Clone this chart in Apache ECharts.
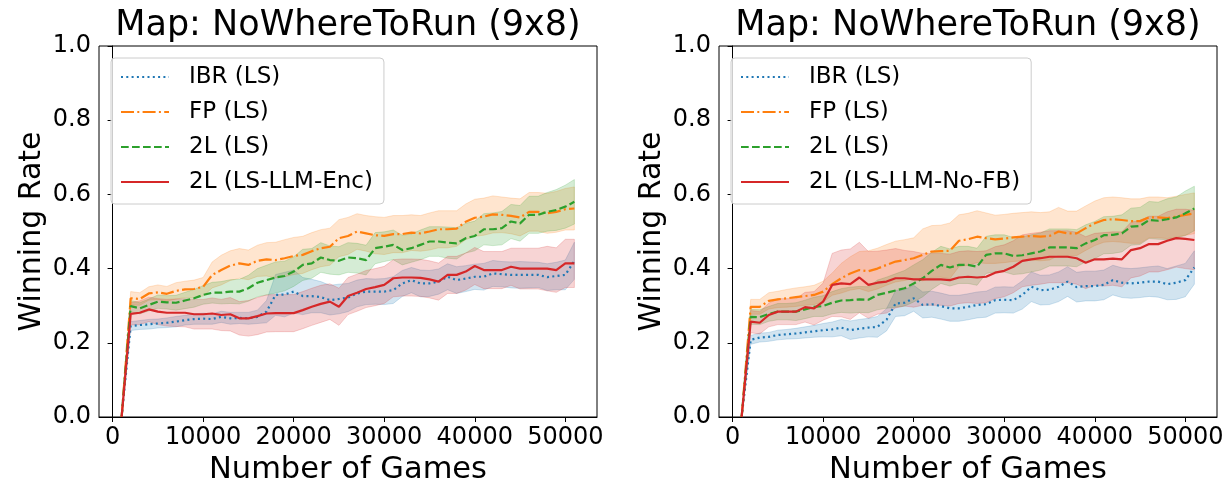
<!DOCTYPE html>
<html><head><meta charset="utf-8">
<script src="https://cdn.jsdelivr.net/npm/echarts@6/dist/echarts.min.js"></script>
<style>html,body{margin:0;padding:0;background:#fff}#c{width:1228px;height:482px}</style>
</head><body><div id="c"></div>
<script>
const games = [1000,2000,3000,4000,5000,6000,7000,8000,9000,10000,11000,12000,13000,14000,15000,16000,17000,18000,19000,20000,21000,22000,23000,24000,25000,26000,27000,28000,29000,30000,31000,32000,33000,34000,35000,36000,37000,38000,39000,40000,41000,42000,43000,44000,45000,46000,47000,48000,49000,50000,51000];
const titleText = 'Map: NoWhereToRun (9x8)';
const xTicks = [0,10000,20000,30000,40000,50000];
const namesLeft = ['IBR (LS)','FP (LS)','2L (LS)','2L (LS-LLM-Enc)'];
const namesRight = ['IBR (LS)','FP (LS)','2L (LS)','2L (LS-LLM-No-FB)'];

// ---- left panel ----
const ibrLeft = [0,.245,.248,.250,.252,.254,.257,.261,.264,.265,.264,.270,.266,.267,.266,.270,.284,.329,.330,.338,.326,.326,.323,.315,.318,.322,.333,.338,.338,.338,.342,.360,.369,.360,.360,.365,.378,.369,.373,.378,.378,.387,.385,.383,.383,.383,.383,.377,.380,.383,.421];
const ibrLeftSpread = [0,.012,.012,.013,.012,.013,.014,.013,.014,.015,.014,.015,.016,.015,.016,.018,.030,.055,.060,.058,.050,.045,.042,.040,.040,.038,.036,.035,.034,.035,.036,.035,.034,.036,.035,.034,.035,.036,.035,.034,.036,.035,.034,.035,.036,.035,.034,.036,.037,.040,.050];
const fpLeft = [0,.320,.318,.333,.336,.332,.340,.344,.345,.351,.383,.396,.408,.414,.410,.421,.425,.423,.428,.434,.437,.447,.455,.459,.482,.488,.500,.495,.490,.488,.493,.493,.497,.495,.500,.506,.506,.508,.526,.537,.540,.546,.545,.542,.538,.553,.553,.549,.553,.560,.562];
const fpLeftSpread = [0,.018,.017,.018,.020,.020,.022,.022,.024,.025,.035,.040,.040,.040,.040,.042,.045,.048,.050,.050,.050,.050,.050,.050,.050,.050,.048,.048,.050,.050,.050,.050,.048,.048,.050,.050,.050,.048,.048,.050,.050,.050,.048,.048,.050,.052,.052,.054,.055,.056,.058];
const twoLeft = [0,.299,.293,.302,.311,.309,.308,.314,.320,.329,.335,.335,.338,.338,.347,.362,.369,.376,.380,.392,.410,.414,.430,.423,.421,.430,.428,.423,.455,.459,.464,.450,.455,.464,.473,.473,.470,.468,.482,.488,.506,.506,.509,.527,.522,.545,.545,.553,.558,.567,.580];
const twoLeftSpread = [0,.015,.015,.016,.018,.018,.020,.022,.024,.025,.028,.030,.032,.033,.035,.038,.040,.042,.040,.040,.042,.040,.040,.038,.038,.040,.040,.040,.042,.040,.040,.040,.038,.040,.040,.040,.042,.042,.040,.040,.042,.044,.045,.046,.048,.050,.050,.052,.055,.058,.060];
const llmLeft = [0,.278,.281,.290,.284,.281,.281,.281,.277,.277,.279,.275,.277,.266,.266,.272,.279,.280,.280,.280,.288,.297,.305,.311,.297,.326,.335,.345,.350,.356,.374,.376,.376,.375,.371,.365,.383,.383,.392,.407,.396,.396,.396,.405,.400,.400,.400,.400,.396,.414,.414];
const llmLeftSpread = [0,.030,.032,.033,.035,.036,.037,.038,.040,.040,.042,.042,.045,.045,.048,.050,.050,.050,.050,.050,.050,.050,.050,.048,.050,.050,.050,.050,.050,.050,.050,.050,.050,.050,.050,.050,.050,.050,.050,.050,.050,.050,.050,.050,.055,.055,.055,.060,.060,.065,.065];

// ---- right panel ----
const ibrRight = [0,.208,.214,.216,.221,.223,.225,.228,.231,.234,.236,.241,.234,.238,.241,.243,.262,.306,.308,.320,.302,.304,.299,.293,.293,.297,.302,.304,.315,.316,.315,.329,.351,.342,.343,.351,.365,.350,.353,.353,.356,.369,.362,.360,.362,.365,.365,.358,.362,.369,.403];
const ibrRightSpread = [0,.012,.012,.012,.013,.013,.014,.015,.016,.018,.020,.022,.025,.025,.025,.028,.030,.035,.035,.035,.035,.035,.035,.035,.035,.035,.035,.035,.035,.035,.035,.038,.040,.040,.040,.040,.040,.040,.040,.040,.040,.040,.040,.040,.040,.040,.042,.042,.045,.045,.045];
const fpRight = [0,.297,.297,.313,.317,.320,.323,.326,.329,.338,.358,.374,.387,.396,.393,.400,.410,.419,.423,.428,.437,.446,.447,.448,.475,.479,.486,.482,.479,.481,.484,.486,.488,.486,.488,.500,.495,.495,.509,.522,.531,.533,.531,.528,.528,.538,.538,.536,.540,.545,.549];
const fpRightSpread = [0,.020,.020,.022,.022,.024,.025,.025,.026,.028,.030,.040,.045,.050,.055,.055,.055,.055,.055,.055,.070,.070,.070,.075,.070,.070,.070,.068,.065,.065,.065,.065,.065,.065,.065,.065,.060,.060,.060,.060,.060,.060,.060,.060,.060,.055,.055,.055,.055,.055,.055];
const twoRight = [0,.270,.269,.278,.284,.284,.284,.290,.297,.299,.308,.314,.315,.317,.316,.329,.335,.341,.347,.360,.374,.394,.410,.403,.410,.410,.405,.437,.441,.441,.434,.436,.441,.446,.457,.457,.457,.455,.468,.477,.490,.491,.495,.513,.515,.531,.529,.533,.538,.549,.562];
const twoRightSpread = [0,.020,.020,.020,.022,.022,.024,.025,.026,.028,.030,.032,.035,.035,.035,.040,.042,.045,.048,.050,.050,.050,.050,.050,.050,.050,.050,.050,.050,.050,.050,.050,.050,.050,.050,.050,.050,.050,.050,.050,.050,.050,.050,.050,.050,.050,.050,.055,.055,.060,.060];
const llmRight = [0,.257,.254,.275,.284,.284,.284,.296,.293,.311,.356,.360,.358,.376,.356,.362,.365,.374,.374,.371,.371,.371,.371,.369,.376,.378,.376,.378,.389,.394,.405,.421,.425,.428,.432,.432,.432,.428,.416,.425,.425,.427,.425,.450,.455,.466,.466,.475,.482,.480,.477];
const llmRightSpread = [0,.030,.030,.032,.035,.035,.035,.040,.045,.050,.085,.090,.095,.095,.090,.085,.085,.080,.075,.075,.070,.070,.070,.070,.070,.070,.070,.070,.070,.070,.070,.070,.070,.070,.070,.070,.070,.070,.070,.070,.072,.072,.074,.075,.075,.075,.075,.078,.078,.080,.080];

const colors = ['#1f77b4','#ff7f0e','#2ca02c','#d62728'];
const dashes = [[2,3.3],[13,3.3,2,3.3],[7.7,3.3],'solid'];
const FONT = 'DejaVu Sans';

const panels = [
  {names: namesLeft, means: [ibrLeft, fpLeft, twoLeft, llmLeft], spreads: [ibrLeftSpread, fpLeftSpread, twoLeftSpread, llmLeftSpread]},
  {names: namesRight, means: [ibrRight, fpRight, twoRight, llmRight], spreads: [ibrRightSpread, fpRightSpread, twoRightSpread, llmRightSpread]}
];
const gridLefts = [99, 719];

function hexA(h, a){const n=parseInt(h.slice(1),16);return `rgba(${n>>16&255},${n>>8&255},${n&255},${a})`;}

const series = [];
panels.forEach((p, pi) => {
  for (let k = 0; k < 4; k++) {
    const m = p.means[k], s = p.spreads[k];
    series.push({type:'custom', xAxisIndex:pi, yAxisIndex:pi, silent:true, z:1,
      data:[[games[0], m[0]]],
      renderItem:(params, api) => {
        const pts = [];
        for (let i = 0; i < games.length; i++) pts.push(api.coord([games[i], m[i]+s[i]]));
        for (let i = games.length-1; i >= 0; i--) pts.push(api.coord([games[i], m[i]-s[i]]));
        return {type:'polygon', shape:{points:pts}, style:{fill:hexA(colors[k],0.2), stroke:hexA(colors[k],0.2), lineWidth:1}};
      }});
  }
  for (let k = 0; k < 4; k++) {
    series.push({type:'line', name:p.names[k], xAxisIndex:pi, yAxisIndex:pi, symbol:'none', z:3,
      color: colors[k],
      lineStyle:{color:colors[k], width:2.2, type:dashes[k], cap:'butt'},
      data: games.map((g,i)=>[g, p.means[k][i]])});
  }
});

const option = {
  animation:false,
  backgroundColor:'#fff',
  textStyle:{fontFamily:FONT},
  title: gridLefts.map(l => ({text:titleText, left:l+249, top:8, textAlign:'center', padding:0,
    textStyle:{fontFamily:FONT, fontSize:35, fontWeight:'normal', color:'#000'}})),
  legend: panels.map((p,pi) => ({orient:'vertical', left:gridLefts[pi]+12, top:58, data:p.names, selectedMode:false,
    itemWidth:48, itemHeight:14, itemGap:9, padding:[6,11,9,9],
    itemStyle:{opacity:0, borderWidth:0},
    backgroundColor:'rgba(255,255,255,0.8)', borderColor:'#cccccc', borderWidth:1, borderRadius:4,
    textStyle:{fontFamily:FONT, fontSize:23, color:'#000', lineHeight:26, padding:[0,0,0,15]}})),
  grid: gridLefts.map(l => ({left:l, top:46, width:498, height:371, show:true, borderColor:'#000', borderWidth:1,
    backgroundColor:'transparent', outerBoundsMode:'none', containLabel:false})),
  xAxis: gridLefts.map((l,pi) => ({type:'value', gridIndex:pi, min:-1500, max:53500,
    name:'Number of Games', nameLocation:'middle', nameGap:37,
    nameTextStyle:{fontFamily:FONT, fontSize:30.5, color:'#000'},
    axisLine:{show:true, lineStyle:{color:'#000', width:1}},
    axisTick:{show:true, length:5, lineStyle:{color:'#000'}, customValues:xTicks},
    axisLabel:{fontFamily:FONT, fontSize:24, color:'#000', margin:9, customValues:xTicks, formatter:v=>String(v)},
    splitLine:{show:false}})),
  yAxis: gridLefts.map((l,pi) => ({type:'value', gridIndex:pi, min:0, max:1, interval:0.2,
    name:'Winning Rate', nameLocation:'middle', nameGap:52,
    nameTextStyle:{fontFamily:FONT, fontSize:30, color:'#000'},
    axisLine:{show:true, lineStyle:{color:'#000', width:1}},
    axisTick:{show:true, length:5, lineStyle:{color:'#000'}},
    axisLabel:{fontFamily:FONT, fontSize:24, color:'#000', margin:8, formatter:v=>v.toFixed(1)},
    splitLine:{show:false}})),
  series
};
const chart = echarts.init(document.getElementById('c'));
chart.setOption(option);
</script></body></html>
